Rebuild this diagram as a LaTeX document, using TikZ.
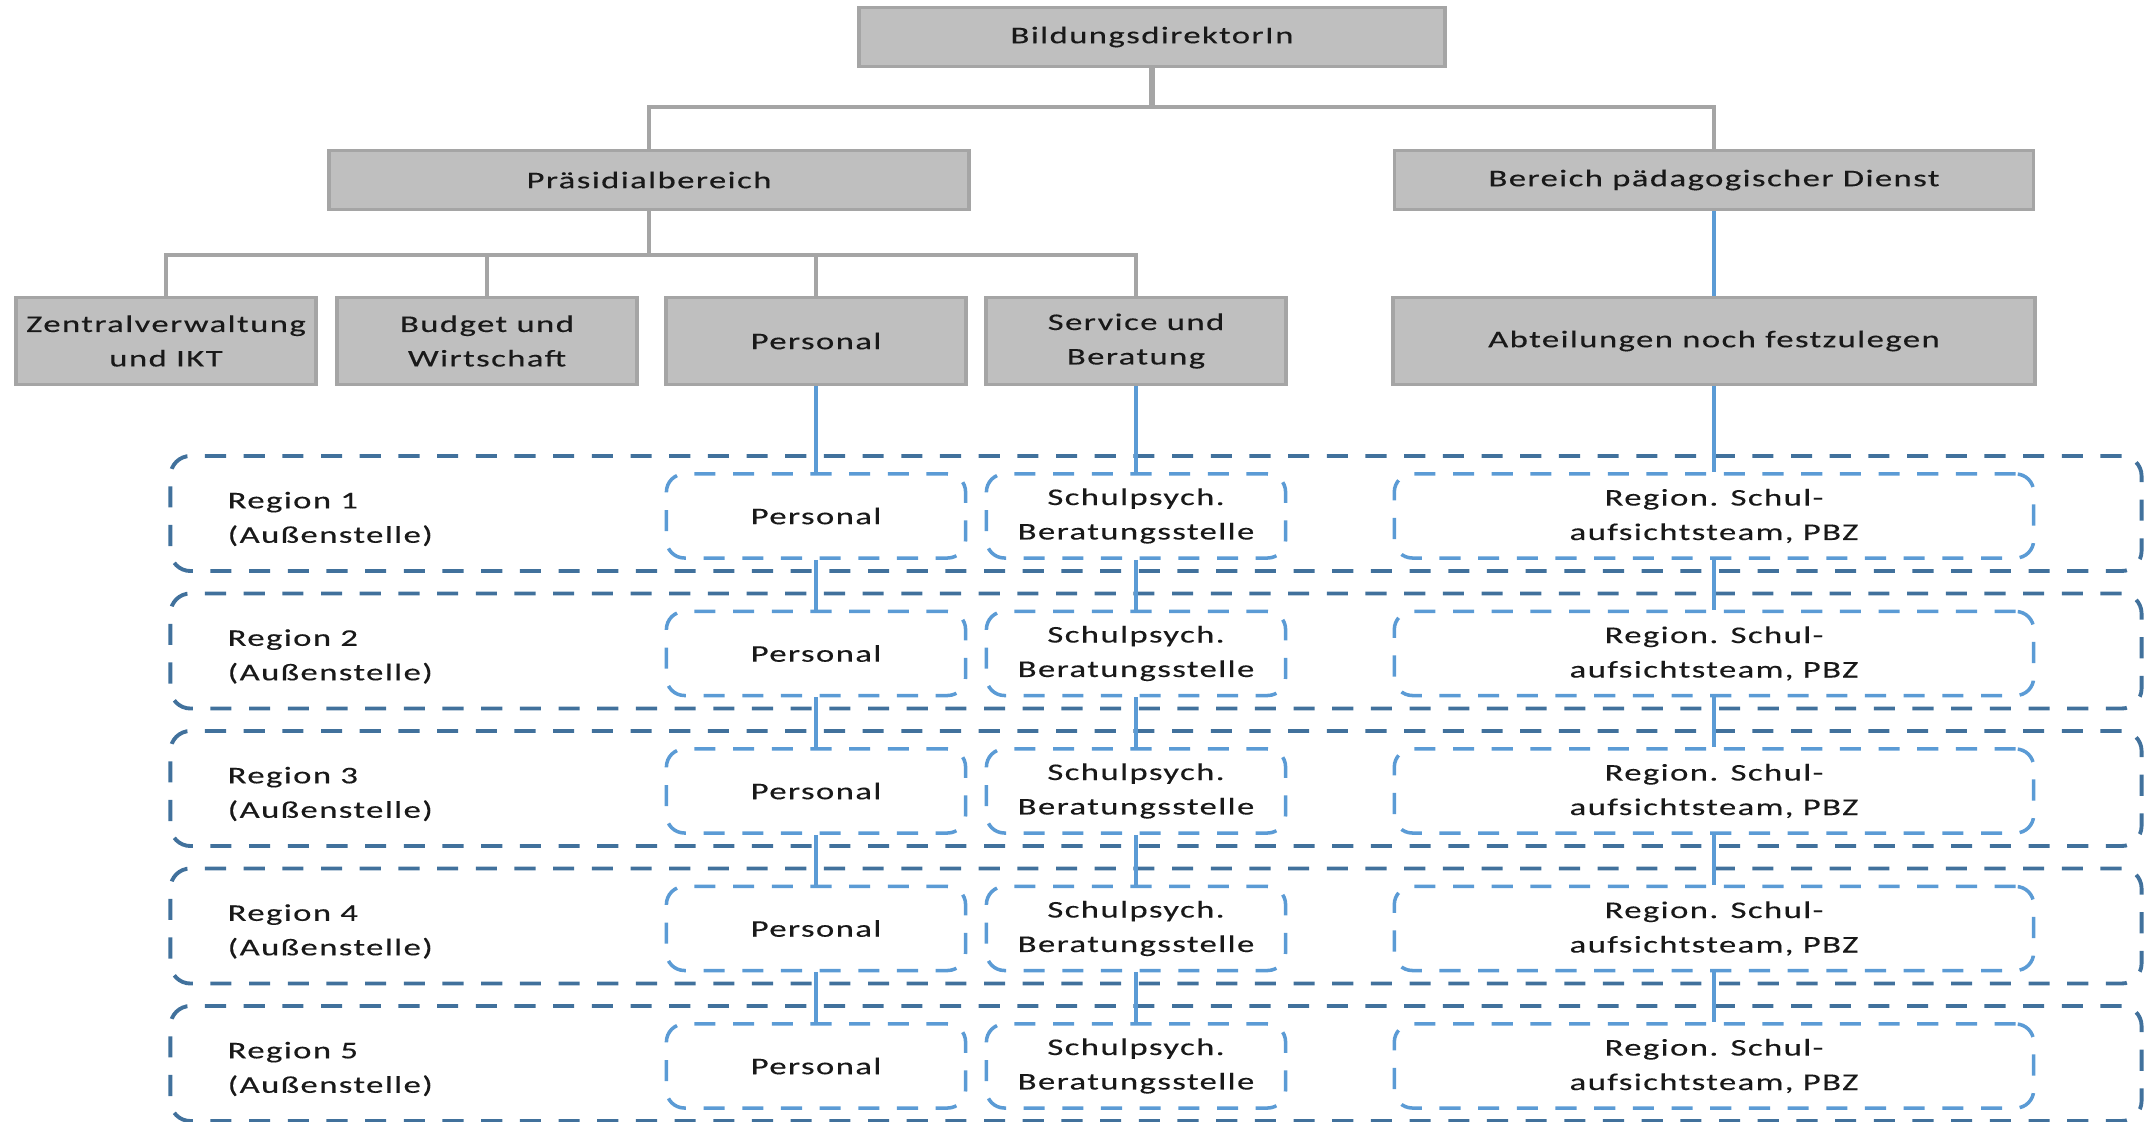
\documentclass[tikz,border=0pt]{standalone}
\usepackage{fontspec}
\setmainfont{Carlito}[FakeStretch=1.45,LetterSpace=6,FakeBold=0.3]
\definecolor{boxgray}{HTML}{BFBFBF}
\definecolor{edgegray}{HTML}{A5A5A5}
\definecolor{darkblue}{HTML}{41719C}
\definecolor{lightblue}{HTML}{5B9BD5}

\begin{document}
\begin{tikzpicture}[x=0.01cm, y=-0.01cm,
    gbox/.style={draw=edgegray, fill=boxgray, line width=1pt, align=center, inner sep=0pt,
        text=black!90, font=\fontsize{6.8}{9.8}\selectfont},
    regbox/.style={draw=darkblue, line width=1.1pt, dash pattern=on 6pt off 5pt,
        rounded corners=0.2cm, minimum width=19.70cm, minimum height=1.15cm},
    unitbox/.style={draw=lightblue, line width=1pt, dash pattern=on 6pt off 5pt,
        rounded corners=0.18cm, minimum height=0.84cm, align=center, inner sep=0pt,
        text=black!90, font=\fontsize{6.8}{9.8}\selectfont},
    regtext/.style={anchor=west, align=left, inner sep=0pt,
        text=black!90, font=\fontsize{6.8}{9.8}\selectfont},
    gline/.style={draw=edgegray, line width=1pt},
    gthick/.style={draw=edgegray, line width=1.8pt},
    bline/.style={draw=lightblue, line width=0.9pt}]

    \useasboundingbox (0,0) rectangle (2148,1122);

    \node(b1)[gbox, minimum width=5.86cm, minimum height=0.59cm] at (1152,37) {BildungsdirektorIn};

    \node(p1)[gbox, minimum width=6.40cm, minimum height=0.59cm] at (649,180) {Präsidialbereich};
    \node(p2)[gbox, minimum width=6.39cm, minimum height=0.59cm] at (1714,180) {Bereich pädagogischer Dienst};

    \node(z1)[gbox, minimum width=3.00cm, minimum height=0.87cm] at (166,341) {Zentralverwaltung\\und IKT};
    \node(z2)[gbox, minimum width=3.00cm, minimum height=0.87cm] at (487,341) {Budget und\\Wirtschaft};
    \node(z3)[gbox, minimum width=3.00cm, minimum height=0.87cm] at (816,341) {Personal};
    \node(z4)[gbox, minimum width=3.00cm, minimum height=0.87cm] at (1136,341) {Service und\\Beratung};
    \node(z5)[gbox, minimum width=6.42cm, minimum height=0.87cm] at (1714,341) {Abteilungen noch festzulegen};

    \coordinate(j1) at (1152,107);
    \coordinate(j2) at (649,255);

    \foreach \i in {1,...,5}
    {
        \node(g\i)[regbox] at (1156,{513.5+137.5*(\i-1)}) {};
        \node(t\i)[regtext] at (227,{519+137.5*(\i-1)}) {Region \i\\(Außenstelle)};
        \node(a\i)[unitbox, minimum width=2.99cm] at (816,{516+137.5*(\i-1)}) {Personal};
        \node(s\i)[unitbox, minimum width=2.99cm] at (1136,{516+137.5*(\i-1)}) {Schulpsych.\\Beratungsstelle};
        \node(r\i)[unitbox, minimum width=6.39cm] at (1714,{516+137.5*(\i-1)}) {Region. Schul-\\aufsichtsteam, PBZ};
    }

    \draw[gthick] (b1) -- (j1);
    \draw[gline] (j1) -| (p1);
    \draw[gline] (j1) -| (p2);
    \draw[gline] (p1) -- (j2);
    \foreach \n in {z1, z2, z3, z4}
        \draw[gline] (j2) -| (\n);

    \draw[bline] (p2) -- (z5);
    \draw[bline] (z3) -- (a1);
    \draw[bline] (z4) -- (s1);
    \draw[bline] (z5) -- (r1);

    \foreach \i/\j in {1/2, 2/3, 3/4, 4/5}
    {
        \draw[bline] (a\i) -- (a\j);
        \draw[bline] (s\i) -- (s\j);
        \draw[bline] (r\i) -- (r\j);
    }
\end{tikzpicture}
\end{document}
